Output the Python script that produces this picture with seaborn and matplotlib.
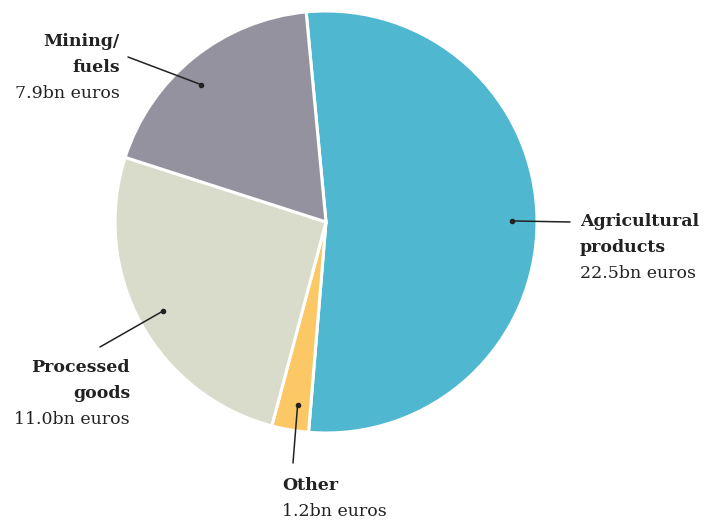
import numpy as np
import matplotlib
matplotlib.use("Agg")
import matplotlib.pyplot as plt
import seaborn as sns

# Datos (miles de millones de euros)
categorias = ["Agricultural\nproducts", "Other", "Processed\ngoods", "Mining/\nfuels"]
valores = [22.5, 1.2, 11.0, 7.9]
etiquetas_valor = ["22.5bn euros", "1.2bn euros", "11.0bn euros", "7.9bn euros"]
colores = ["#4fb7cf", "#fbc865", "#d9dbcb", "#94929e"]

sns.set_theme(style="white")
plt.rcParams['font.family'] = ['DejaVu Serif', 'DejaVu Sans']

fig = plt.figure(figsize=(7.13, 5.23), dpi=100)
ax = fig.add_axes([0, 0, 1, 1])

centro = (326, 301)
radio = 211
wedges, _ = ax.pie(valores, colors=colores, startangle=95.4, counterclock=False,
                   center=centro, radius=radio,
                   wedgeprops=dict(edgecolor="white", linewidth=2.2))
ax.set_xlim(0, 713)
ax.set_ylim(0, 523)
ax.set_aspect("equal")
ax.axis("off")

# posicion del texto (x, y de la primera linea) y alineacion
textos = [((580, 301), "left"), ((282, 38), "left"),
          ((130, 155), "right"), ((120, 481), "right")]
# extremo exterior de cada linea guia
extremos = [(570, 301), (293, 60), (100, 176), (128, 466)]
# pequeno ajuste del angulo del punto respecto al centro de la cuna
ajuste_ang = [0, 1, 0, 3.5]

oscuro = "#222222"
for i, w in enumerate(wedges):
    ang = np.deg2rad((w.theta1 + w.theta2) / 2 + ajuste_ang[i])
    px = centro[0] + 0.88 * radio * np.cos(ang)
    py = centro[1] + 0.88 * radio * np.sin(ang)
    ex, ey = extremos[i]
    ax.plot([px, ex], [py, ey], color=oscuro, lw=1.1)
    ax.plot(px, py, "o", color=oscuro, ms=3)
    (tx, ty), ha = textos[i]
    lineas = categorias[i].split("\n")
    for j, l in enumerate(lineas):
        ax.text(tx, ty - 26 * j, l, ha=ha, va="center", fontsize=12.5,
                fontweight="bold", color=oscuro)
    ax.text(tx, ty - 26 * len(lineas), etiquetas_valor[i], ha=ha, va="center",
            fontsize=12.5, color=oscuro)

fig.savefig("out.png", dpi=100)
